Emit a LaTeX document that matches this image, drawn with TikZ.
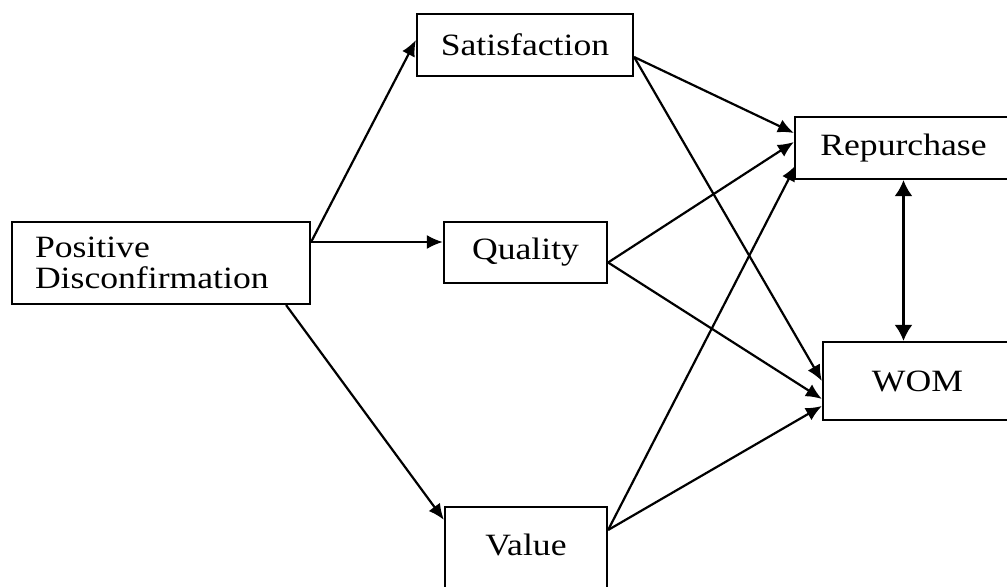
\documentclass[tikz,border=0pt]{standalone}
\usepackage{fontspec}
\setmainfont[FakeStretch=1.15]{Liberation Serif}
\usetikzlibrary{arrows.meta}

\begin{document}
\begin{tikzpicture}[x=0.5pt, y=-0.5pt,
		box/.style={draw, line width=1.1pt, inner sep=0, font=\fontsize{15.5}{15.5}\selectfont},
		arr/.style={line width=1.1pt, -{Latex[length=8pt, width=7pt]}},
		twoway/.style={line width=1.2pt, {Latex[length=8pt, width=9pt]}-{Latex[length=8pt, width=9pt]}}]
		\clip (0, 0) rectangle (1007, 587);
		\node[box, align=left, text width=126pt, inner xsep=11.5pt, minimum height=41pt] (pd) at (161, 263) {Positive\\Disconfirmation};
		\node[box, minimum width=108pt, minimum height=31pt] (sat) at (525, 45) {Satisfaction};
		\node[box, minimum width=81.5pt, minimum height=30.5pt] (qual) at (525.5, 252.5) {Quality};
		\node[box, minimum width=81pt, minimum height=44pt, text height=10pt, text depth=6pt] (val) at (526, 551) {Value};
		\node[box, minimum width=108.5pt, minimum height=31pt] (rep) at (903.5, 148) {Repurchase};
		\node[box, minimum width=94.5pt, minimum height=39pt] (wom) at (917.5, 381) {WOM};

		\coordinate (pd-out) at ([yshift=10.5pt]pd.east);
		\draw[arr] (pd-out) -- ([yshift=2.5pt]sat.west);
		\draw[arr] (pd-out) -- (pd-out -| qual.west);
		\draw[arr] ([xshift=-12.5pt]pd.south east) -- ([yshift=-7pt]val.north west);

		\coordinate (sat-out) at ([yshift=-6pt]sat.east);
		\draw[arr] (sat-out) -- ([yshift=7.5pt]rep.west);
		\draw[arr] (sat-out) -- (wom.west);
		\coordinate (qual-out) at ([yshift=-5pt]qual.east);
		\draw[arr] (qual-out) -- ([yshift=3pt]rep.west);
		\draw[arr] (qual-out) -- ([yshift=-9pt]wom.west);
		\coordinate (val-out) at ([yshift=10.5pt]val.east);
		\draw[arr] (val-out) -- ([xshift=1pt, yshift=-8.5pt]rep.west);
		\draw[arr] (val-out) -- ([yshift=-12.5pt]wom.west);

		\draw[twoway] (rep.south) -- (rep.south |- wom.north);
\end{tikzpicture}
\end{document}
